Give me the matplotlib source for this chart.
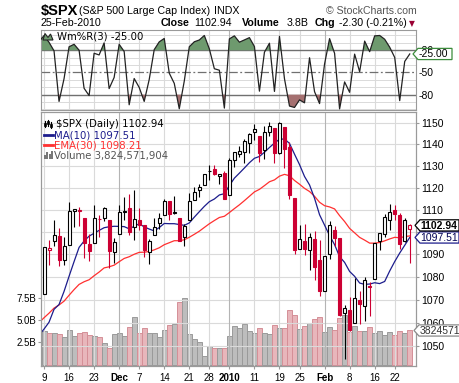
import numpy as np
import pandas as pd
import matplotlib
matplotlib.use("Agg")
import matplotlib.pyplot as plt
from matplotlib.patches import Polygon, Rectangle
from matplotlib.lines import Line2D
from matplotlib.ticker import NullLocator, NullFormatter

# ---------------- data ----------------
# closes before the visible window (Sep 1 - Nov 6 2009), used for MA / EMA warm-up
hist_closes = [998.04, 994.75, 1003.24, 1016.40, 1025.39, 1033.37, 1044.14, 1042.73,
               1049.34, 1052.63, 1068.76, 1065.49, 1068.30, 1064.66, 1071.66, 1060.87,
               1050.78, 1044.38, 1062.98, 1060.61, 1057.08,
               1029.85, 1025.21, 1040.46, 1054.72, 1057.58, 1065.48, 1071.49, 1076.19,
               1073.19, 1092.02, 1096.56, 1087.68, 1097.91, 1091.06, 1081.40, 1092.91,
               1079.60, 1066.95, 1063.41, 1042.63, 1066.11, 1036.19,
               1042.88, 1045.41, 1046.50, 1066.63, 1069.30]
pre_highs = [1061.00, 1066.65, 1071.48]   # Nov 4-6
pre_lows = [1045.15, 1047.30, 1059.32]

opens = [1072.31, 1091.86, 1096.04, 1098.31, 1087.59, 1094.13, 1109.22, 1109.44, 1106.44, 1094.66,
         1094.86, 1105.83, 1106.49, 1105.47, 1091.07,
         1098.89, 1109.03, 1110.59, 1102.40, 1105.52, 1103.04, 1091.07, 1098.69, 1103.96, 1107.84,
         1114.11, 1108.61, 1106.36, 1097.86, 1105.31, 1114.51, 1118.84, 1121.08, 1127.53, 1128.55,
         1125.53, 1126.60,
         1116.56, 1132.66, 1135.71, 1136.27, 1140.52, 1145.96, 1143.81, 1137.31, 1145.68, 1147.72,
         1136.03, 1147.95, 1138.68, 1115.49, 1092.40, 1095.80, 1091.94, 1096.93, 1087.61,
         1073.89, 1090.05, 1100.67, 1097.25, 1064.12, 1065.51, 1060.06, 1069.68, 1067.10, 1075.95,
         1079.13, 1096.14, 1099.03, 1105.49, 1110.00, 1107.49, 1095.89, 1101.36]
highs = [1093.19, 1096.42, 1105.37, 1101.97, 1097.79, 1113.69, 1110.52, 1111.10, 1106.44, 1099.00,
         1112.38, 1107.56, 1111.18, 1105.47, 1097.24,
         1112.28, 1115.58, 1117.28, 1119.13, 1110.72, 1103.04, 1097.04, 1106.25, 1108.35, 1114.76,
         1114.11, 1116.21, 1106.36, 1103.74, 1117.68, 1120.27, 1121.58, 1126.48, 1130.38, 1130.38,
         1126.42, 1127.64,
         1133.87, 1136.63, 1139.19, 1142.46, 1145.39, 1149.74, 1143.81, 1148.40, 1150.41, 1147.77,
         1150.45, 1147.95, 1141.00, 1115.49, 1102.97, 1103.69, 1099.51, 1100.22, 1096.45,
         1089.38, 1104.73, 1102.72, 1097.25, 1067.59, 1071.20, 1079.28, 1073.67, 1080.04, 1077.81,
         1095.06, 1099.51, 1108.24, 1112.42, 1112.29, 1108.58, 1106.42, 1103.50]
lows = [1072.31, 1085.42, 1093.81, 1085.02, 1085.33, 1094.13, 1102.19, 1102.70, 1088.40, 1086.81,
        1094.86, 1097.63, 1104.75, 1083.74, 1086.25,
        1098.89, 1105.29, 1098.74, 1096.52, 1100.83, 1088.61, 1085.89, 1098.69, 1101.34, 1107.84,
        1105.35, 1107.96, 1095.88, 1093.88, 1105.31, 1114.51, 1116.00, 1121.08, 1123.51, 1126.08,
        1121.94, 1114.81,
        1116.56, 1129.66, 1133.95, 1131.32, 1136.22, 1142.02, 1131.77, 1133.18, 1143.80, 1131.39,
        1135.77, 1129.25, 1114.84, 1090.18, 1092.40, 1089.86, 1083.11, 1078.46, 1071.59,
        1073.89, 1087.96, 1093.56, 1062.78, 1044.50, 1056.51, 1060.06, 1059.34, 1060.59, 1062.97,
        1079.13, 1091.91, 1097.56, 1100.80, 1105.38, 1092.18, 1095.50, 1086.02]
closes = [1093.08, 1093.01, 1098.51, 1087.24, 1093.48, 1109.30, 1110.32, 1109.80, 1094.90, 1091.38,
          1106.24, 1105.65, 1110.63, 1091.49, 1095.63,
          1108.86, 1109.24, 1099.92, 1105.98, 1103.25, 1091.94, 1095.95, 1102.35, 1106.41, 1114.11,
          1107.93, 1109.18, 1096.08, 1102.47, 1114.05, 1118.02, 1120.59, 1126.48, 1127.78, 1126.20,
          1126.42, 1115.10,
          1132.99, 1136.52, 1137.14, 1141.69, 1144.98, 1146.98, 1136.22, 1145.68, 1148.46, 1136.03,
          1150.23, 1138.04, 1116.48, 1091.76, 1096.78, 1092.17, 1097.50, 1084.53, 1073.87,
          1089.19, 1103.32, 1097.28, 1063.11, 1066.19, 1056.74, 1070.52, 1068.13, 1078.47, 1075.51,
          1094.87, 1099.51, 1106.75, 1109.17, 1108.01, 1094.60, 1105.24, 1102.94]
volume_b = [3.76, 3.54, 3.54, 3.43, 3.05, 3.87, 3.20, 3.50, 3.65, 3.28,
            3.20, 3.05, 2.38, 1.82, 3.43,
            3.50, 3.20, 4.17, 5.30, 3.58, 4.06, 3.54, 3.54, 3.05, 3.87,
            4.43, 4.55, 6.97, 7.42, 3.39, 2.83, 2.53, 0.96, 2.08, 1.82,
            1.82, 1.85,
            3.20, 4.32, 4.06, 4.55, 3.80, 3.50, 4.06, 3.50, 3.39, 4.40,
            4.06, 4.06, 6.11, 5.55, 3.95, 4.32, 4.66, 5.16, 5.32,
            3.65, 4.19, 3.85, 5.20, 5.59, 3.65, 4.32, 3.73, 3.73, 4.21,
            3.54, 3.73, 3.28, 3.62, 3.28, 3.73, 3.50, 3.82]

holidays = ['2009-11-26', '2009-12-25', '2010-01-01', '2010-01-18', '2010-02-15']
tick_dates = ['2009-11-09', '2009-11-16', '2009-11-23', '2009-12-01', '2009-12-07', '2009-12-14',
              '2009-12-21', '2009-12-28', '2010-01-04', '2010-01-11', '2010-01-19', '2010-01-25',
              '2010-02-01', '2010-02-08', '2010-02-16', '2010-02-22']
tick_labels = ['9', '16', '23', 'Dec', '7', '14', '21', '28', '2010', '11', '19', '25',
               'Feb', '8', '16', '22']
month_labels = ['Dec', '2010', 'Feb']
price_ticks = [1050, 1060, 1070, 1080, 1090, 1100, 1110, 1120, 1130, 1140, 1150]
vol_ticks = [2.5, 5.0, 7.5]
vol_tick_labels = ['2.5B', '5.0B', '7.5B']
wr_labels = [-20, -50, -80]

# ---------------- derived ----------------
dates = [d for d in pd.bdate_range('2009-11-09', '2010-02-25') if d.strftime('%Y-%m-%d') not in holidays]
dates = [d.strftime('%Y-%m-%d') for d in dates]
n = len(closes)
xs = np.arange(n)
tick_pos = [dates.index(d) for d in tick_dates]

all_closes = np.array(hist_closes + closes)
ma10 = pd.Series(all_closes).rolling(10).mean().values
ema = np.full(len(all_closes), np.nan)
ema[29] = all_closes[:30].mean()
k = 2.0 / 31
for j in range(30, len(all_closes)):
    ema[j] = all_closes[j] * k + ema[j - 1] * (1 - k)
off = len(hist_closes)
ind_x = np.arange(-1, n)
ma_line = ma10[off - 1:]
ema_line = ema[off - 1:]

H_all = pre_highs + highs
L_all = pre_lows + lows
C_all = hist_closes[-3:] + closes
wr = []
for j in range(2, len(C_all)):
    hh = max(H_all[j - 2:j + 1]); ll = min(L_all[j - 2:j + 1])
    wr.append((hh - C_all[j]) / (hh - ll) * -100.0)
wr = np.array(wr)

prev = [hist_closes[-1]] + closes[:-1]

# ---------------- figure ----------------
plt.rcParams['font.family'] = ['Liberation Sans', 'DejaVu Sans']
W, H = 460, 383
fig = plt.figure(figsize=(W / 100, H / 100), dpi=100)
fig.patch.set_facecolor('white')


def rect(x0, y0, x1, y1):
    return [x0 / W, 1 - y1 / H, (x1 - x0) / W, (y1 - y0) / H]


ax_w = fig.add_axes(rect(41, 30, 416, 110))
ax_v = fig.add_axes(rect(41, 112, 416, 366))
ax_p = ax_v.twinx()

RED = '#cc0033'
GRID = '#dadada'
GRID_M = '#b4b4b4'
FRAME = '#9a9a9a'
xlim = (-0.6, 74.25)

for a in (ax_w, ax_v, ax_p):
    for s in a.spines.values():
        s.set_color(FRAME)
        s.set_linewidth(0.8)

# ---- Williams %R panel ----
ax_w.set_xlim(*xlim)
ax_w.set_ylim(-100.7, 7.4)
for lv in [0, -10, -30, -40, -60, -70, -90, -100]:
    ax_w.axhline(lv, color=GRID, lw=0.7, zorder=0.5)
for t, lab in zip(tick_pos, tick_labels):
    ax_w.axvline(t, color=GRID_M if lab in month_labels else GRID, lw=0.8, zorder=0.6)
ax_w.axhline(-20, color='#707070', lw=1.0, zorder=1)
ax_w.axhline(-80, color='#707070', lw=1.0, zorder=1)
ax_w.axhline(-50, color='#707070', lw=0.9, ls=(0, (7, 2, 1.5, 2)), zorder=1)
ax_w.fill_between(ind_x, wr, -20, where=wr > -20, interpolate=True, color='#6e9a6e', lw=0, zorder=2)
ax_w.fill_between(ind_x, wr, -80, where=wr < -80, interpolate=True, color='#a57070', lw=0, zorder=2)
ax_w.plot(ind_x, wr, color='#222222', lw=0.9, zorder=3)
ax_w.set_xticks([])
ax_w.yaxis.tick_right()
ax_w.set_yticks(wr_labels)
ax_w.set_yticklabels([str(v) for v in wr_labels])
ax_w.tick_params(axis='y', length=0, pad=1.5, labelsize=7.5)

# ---- volume (left axis) ----
ax_v.set_xlim(*xlim)
ax_v.set_ylim(-0.16, 28.3)
for i in range(n):
    down = closes[i] < prev[i]
    ax_v.bar(xs[i], volume_b[i], width=1.0,
             facecolor='#e8b6bb' if down else '#bdbdbd',
             edgecolor='#d58f97' if down else '#9a9a9a', lw=0.7, zorder=1)
ax_v.set_yticks(vol_ticks)
ax_v.set_yticklabels(vol_tick_labels)
ax_v.tick_params(axis='y', length=2, pad=1.5, labelsize=7, color=FRAME)
ax_v.set_xticks(tick_pos)
ax_v.set_xticklabels(tick_labels)
for lab in ax_v.get_xticklabels():
    if lab.get_text() in month_labels:
        lab.set_fontweight('bold')
ax_v.tick_params(axis='x', length=2, pad=3, labelsize=7, color=FRAME)

# ---- price (right axis, log) ----
ax_p.set_yscale('log')
ax_p.set_ylim(1041.4, 1155.2)
ax_p.set_xlim(*xlim)
ax_p.yaxis.set_minor_locator(NullLocator())
ax_p.yaxis.set_minor_formatter(NullFormatter())
ax_p.set_yticks(price_ticks)
ax_p.set_yticklabels([str(v) for v in price_ticks])
ax_p.tick_params(axis='y', length=2, pad=2, labelsize=7.5, color=FRAME)
for v in price_ticks:
    ax_p.axhline(v, color=GRID, lw=0.8, zorder=0.5)
for t, lab in zip(tick_pos, tick_labels):
    ax_p.axvline(t, color=GRID_M if lab in month_labels else GRID, lw=0.8, zorder=0.6)

ax_p.plot(ind_x, ema_line, color='#ff3030', lw=0.9, zorder=2)
ax_p.plot(ind_x, ma_line, color='#1c1c8c', lw=0.9, zorder=2)

for i in range(n):
    o, h, l, c = opens[i], highs[i], lows[i], closes[i]
    col = RED if c < prev[i] else 'black'
    filled = c < o
    ax_p.vlines(xs[i], l, h, color=col, lw=0.8, zorder=3)
    lo, hi = min(o, c), max(o, c)
    ax_p.bar(xs[i], hi - lo, bottom=lo, width=0.6,
             facecolor=col if filled else 'white', edgecolor=col, lw=0.8, zorder=4)

# ---------------- overlay (text, legends, tags) ----------------
ov = fig.add_axes([0, 0, 1, 1])
ov.set_zorder(10)
ov.set_xlim(0, W)
ov.set_ylim(H, 0)
ov.axis('off')
ov.patch.set_visible(False)


def txt(x, y, s, size=7.7, weight='normal', color='black', ha='left', family=None, va='baseline'):
    kw = {}
    if family:
        kw['family'] = family
    ov.text(x, y, s, fontsize=size, fontweight=weight, color=color, ha=ha, va=va,
            parse_math=False, **kw)


# header
txt(41, 15.5, '$SPX', size=10.5, weight='bold')
txt(79, 14.5, '(S&P 500 Large Cap Index)', size=7.7)
txt(214, 14.5, 'INDX', size=7.7)
txt(417, 14.5, '\u00a9 StockCharts.com', size=7.6, color='#555555', ha='right')
txt(41, 26.5, '25-Feb-2010', size=7.7)
txt(161, 26.5, 'Close', size=7.7, weight='bold')
txt(194, 26.5, '1102.94', size=7.7)
txt(242, 26.5, 'Volume', size=7.7, weight='bold')
txt(287, 26.5, '3.8B', size=7.7)
txt(315, 26.5, 'Chg', size=7.7, weight='bold')
txt(339, 26.5, '-2.30 (-0.21%)', size=7.7)
txt(409, 26.0, '\u25bc', size=5.5, color='#990033', family='DejaVu Sans')

# indicator legend
ov.add_patch(Polygon([(43, 40), (45, 33.5), (48, 37.5), (50.5, 34), (53, 40)], closed=True,
                     facecolor='#6e9a6e', edgecolor='#222222', lw=0.8))
txt(57, 39.5, 'Wm%R(3) -25.00', size=7.3, family='DejaVu Sans')

# main legend
for xx, y0, y1 in [(45, 121, 127), (48, 119.5, 126), (51, 122, 127.5)]:
    ov.add_line(Line2D([xx, xx], [y0, y1], color='black', lw=0.8))
    ov.add_patch(Rectangle((xx - 1, y0 + 1.5), 2, 3, facecolor='black', edgecolor='black', lw=0.5))
txt(56.5, 127, '$SPX (Daily) 1102.94', size=7.3, family='DejaVu Sans')
ov.add_line(Line2D([44, 53], [134.5, 134.5], color='#1c1c8c', lw=2))
txt(54.5, 138, 'MA(10) 1097.51', size=7.3, color='#1c1c8c', family='DejaVu Sans')
ov.add_line(Line2D([44, 53], [145, 145], color='#ff3030', lw=2))
txt(54.5, 148.5, 'EMA(30) 1098.21', size=7.3, color='#ff3030', family='DejaVu Sans')
for xx, hh in [(44, 4), (46.5, 7), (49, 5), (51.5, 8)]:
    ov.add_patch(Rectangle((xx, 159 - hh), 2, hh, facecolor='#777777', edgecolor='none'))
txt(54.5, 158.5, 'Volume 3,824,571,904', size=7.3, color='#555555', family='DejaVu Sans')


def to_px(axes, x, y):
    d = axes.transData.transform((x, y))
    return ov.transData.inverted().transform(d)


def tag(y, s, edge, x0=415, x1=459, weight='normal', color='black'):
    pts = [(x0, y), (x0 + 5, y - 5.6), (x1, y - 5.6), (x1, y + 5.6), (x0 + 5, y + 5.6)]
    ov.add_patch(Polygon(pts, closed=True, facecolor='white', edgecolor=edge, lw=0.9))
    txt(x0 + 5.5, y + 0.3, s, size=7.5, weight=weight, color=color, va='center')


fig.canvas.draw()
y_close = to_px(ax_p, 0, closes[-1])[1]
y_ma = to_px(ax_p, 0, ma_line[-1])[1]
y_vol = to_px(ax_v, 0, volume_b[-1])[1]
y_wr = to_px(ax_w, 0, wr[-1])[1]
tag(y_wr, '-25.00', '#3c8c3c', x0=413, x1=452)
tag(y_vol, '3824571', '#8a8a8a', x0=414, x1=460, color='#333333')
tag(y_ma, '1097.51', '#1c1c8c', color='#000055')
tag(y_close, '1102.94', 'black', weight='bold')

fig.savefig('out.png', dpi=100, facecolor='white')
